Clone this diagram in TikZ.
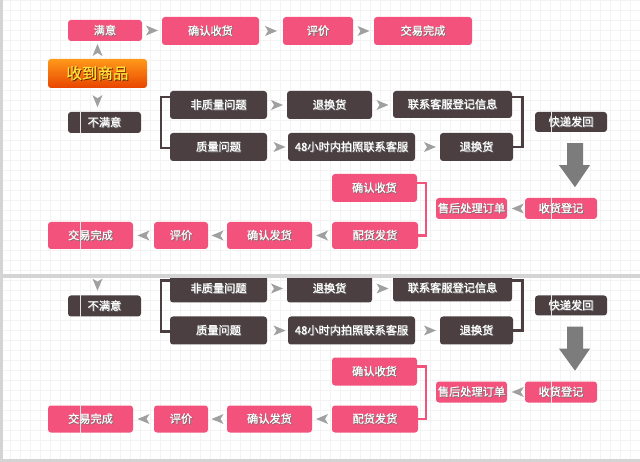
\documentclass[tikz,border=0pt]{standalone}
\usepackage{fontspec}
\setmainfont{Noto Sans CJK SC}[FakeBold=0.9]
\usetikzlibrary{calc}
\definecolor{pinkc}{HTML}{F2527C}
\definecolor{darkc}{HTML}{4B3F42}
\definecolor{chevc}{HTML}{A0A0A0}
\definecolor{bigc}{HTML}{7C7C7C}
\definecolor{orT}{HTML}{FF9A1A}
\definecolor{orB}{HTML}{E84400}
\definecolor{yel}{HTML}{FFE23A}
\definecolor{gridc}{HTML}{F3F3F3}
\definecolor{framec}{HTML}{D4D4D4}
\newcommand\shad[2][black!55]{\makebox[0pt][l]{\hspace{0.8pt}\raisebox{-0.8pt}{\textcolor{#1}{#2}}}#2}
\tikzset{
  box/.style={rectangle, rounded corners=3pt, inner sep=0pt, text=white,
              font=\fontsize{11.2}{12}\selectfont},
  pbox/.style={box, fill=pinkc},
  dbox/.style={box, fill=darkc},
  sz/.style 2 args={minimum width=#1pt, minimum height=#2pt},
  obox/.style={rectangle, rounded corners=3pt, inner sep=0pt, top color=orT, bottom color=orB,
               text=yel, font=\fontsize{15.5}{16}\selectfont},
  chev/.pic={\fill[chevc] (-6,-5) -- (6,0) -- (-6,5) -- (-3,0) -- cycle;},
  dline/.style={draw=darkc, line width=2.6pt},
  pline/.style={draw=pinkc, line width=2.4pt},
  artline/.style={draw=white!80!gray, line width=0.8pt},
}
\newcommand\flowdiagram{%
  % top row
  \node[pbox, sz={74}{21}] (manyi) at (105,30.5) {\shad{满意}};
  \node[pbox, sz={97}{28}] (qr1) at (210.5,31) {\shad{确认收货}};
  \node[pbox, sz={70}{28}] (pj1) at (318,31) {\shad{评价}};
  \node[pbox, sz={98}{28}] (jy1) at (423,31) {\shad{交易完成}};
  \node[obox, sz={99}{29}] (sd) at (97.5,73.5) {\shad[black!60!orB]{收到商品}};
  \node[dbox, sz={73}{21}] (bmy) at (104.5,122.5) {\shad{不满意}};
  % problem rows
  \node[dbox, sz={97}{28}] (fzl) at (218.5,105) {\shad{非质量问题}};
  \node[dbox, sz={85}{28}] (th1) at (329.5,105) {\shad{退换货}};
  \node[dbox, sz={119}{27}] (lx) at (452.5,104.5) {\shad{联系客服登记信息}};
  \node[dbox, sz={72}{20}] (kd) at (571,122) {\shad{快递发回}};
  \node[dbox, sz={97}{28}] (zl) at (218.5,147) {\shad{质量问题}};
  \node[dbox, sz={127}{28}] (h48) at (351.5,147) {\shad{48小时内拍照联系客服}};
  \node[dbox, sz={73}{28}] (th2) at (476.5,147) {\shad{退换货}};
  % after-sale rows
  \node[pbox, sz={72}{21}] (shdj) at (561,208.5) {\shad{收货登记}};
  \node[pbox, sz={71}{21}] (shcl) at (471.5,208.5) {\shad{售后处理订单}};
  \node[pbox, sz={85}{28}] (qr2) at (374.5,188) {\shad{确认收货}};
  \node[pbox, sz={86}{27}] (ph) at (375,235.5) {\shad{配货发货}};
  \node[pbox, sz={85}{27}] (qf) at (269.5,235.5) {\shad{确认发货}};
  \node[pbox, sz={54}{27}] (pj2) at (181,235.5) {\shad{评价}};
  \node[pbox, sz={85}{27}] (jy2) at (90.5,235.5) {\shad{交易完成}};
  % screenshot seams
  \draw[artline] ($(bmy.north west)+(13,0)$) -- ($(bmy.south west)+(13,0)$);
  \draw[artline] ($(jy2.north west)+(33,0)$) -- ($(jy2.south west)+(33,0)$);
  \draw[artline] ($(kd.north west)+(17,0)$) -- ($(kd.south west)+(17,0)$);
  \draw[artline] ($(shdj.north west)+(27,0)$) -- ($(shdj.south west)+(27,0)$);
  % chevrons
  \path (manyi.east) -- (manyi.east -| qr1.west) pic[midway, sloped, allow upside down]{chev};
  \path (qr1) -- (pj1) pic[midway, sloped, allow upside down]{chev};
  \path (pj1) -- (jy1) pic[midway, sloped, allow upside down]{chev};
  \path (sd.north) -- (sd.north |- manyi.south) pic[midway, sloped, allow upside down]{chev};
  \path (sd.south) -- (sd.south |- bmy.north) pic[pos=0.55, sloped, allow upside down]{chev};
  \path (fzl) -- (th1) pic[midway, sloped, allow upside down]{chev};
  \path (th1) -- (lx.west |- th1) pic[midway, sloped, allow upside down]{chev};
  \path (zl) -- (h48) pic[pos=0.6, sloped, allow upside down]{chev};
  \path (h48) -- (th2) pic[pos=0.6, sloped, allow upside down]{chev};
  \path (shdj) -- (shcl) pic[pos=0.4, sloped, allow upside down]{chev};
  \path (ph.west) -- (ph.west -| qf.east) pic[midway, sloped, allow upside down]{chev};
  \path (qf) -- (pj2) pic[midway, sloped, allow upside down]{chev};
  \path (pj2) -- (jy2) pic[midway, sloped, allow upside down]{chev};
  % brackets
  \draw[dline] ($(fzl.west)+(0,-8)$) -| ($(zl.west)+(-9,1)$) -- ($(zl.west)+(0,1)$);
  \draw[dline] ($(lx.east)+(0,-7.5)$) -| ($(th2.east)+(9,0)$) -- (th2.east);
  \draw[pline] ($(qr2.east)+(0,-5)$) -| ($(ph.east)+(8,0)$) -- (ph.east);
  % big arrow
  \coordinate (bt) at ($(kd.south)+(4,11)$);
  \fill[bigc] (bt) ++(-8,0) -- ++(16,0) -- ++(0,22) -- ++(7,0) -- ++(-15,22) -- ++(-16,-22) -- ++(8,0) -- cycle;
}
\begin{document}
\begin{tikzpicture}[x=1pt, y=-1pt]
  \useasboundingbox (0,0) rectangle (640,462);
  \fill[white] (0,0) rectangle (640,462);
  \draw[gridc, line width=0.5pt, step=10pt] (0,0) grid (640,462);
  \flowdiagram
  \begin{scope}
    \clip (0,278.5) rectangle (640,458.5);
    \begin{scope}[shift={(0,183.5)}, name prefix=lo-]
      \flowdiagram
    \end{scope}
  \end{scope}
  \fill[framec] (0,274.5) rectangle (640,278.5);
  \fill[framec] (0,0) rectangle (2.5,462);
  \fill[framec] (0,458.5) rectangle (640,462);
\end{tikzpicture}
\end{document}
